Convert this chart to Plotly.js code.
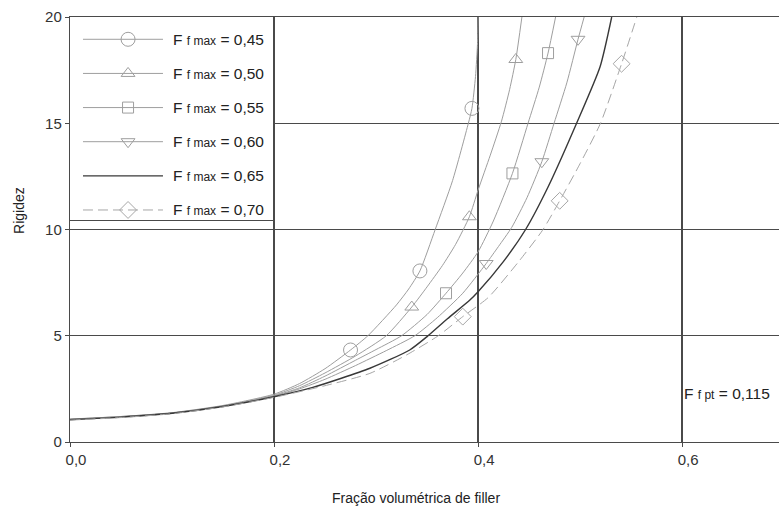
<!DOCTYPE html>
<html>
<head>
<meta charset="utf-8">
<script src="https://cdn.plot.ly/plotly-3.0.1.min.js"></script>
<style>
  html, body { margin: 0; padding: 0; background: #fff; }
  #chart { width: 779px; height: 508px; }
</style>
</head>
<body>
<div id="chart"></div>
<script>
// Rigidez vs. fração volumétrica de filler, para vários Ff max
const ffmaxLabels = ['0,45', '0,50', '0,55', '0,60', '0,65', '0,70'];

// curves
const x045 = [0, 0.05, 0.1, 0.15, 0.2, 0.225, 0.25, 0.275, 0.292, 0.32, 0.332, 0.343, 0.358, 0.375, 0.3905, 0.394, 0.3975, 0.3995, 0.4];
const y045 = [1.08, 1.2, 1.38, 1.72, 2.25, 2.75, 3.45, 4.33, 5.0, 6.45, 7.2, 8.05, 10.0, 12.3, 15.0, 15.7, 17.2, 18.8, 20];

const x050 = [0, 0.05, 0.1, 0.15, 0.2, 0.225, 0.25, 0.28, 0.31, 0.335, 0.35, 0.365, 0.378, 0.3915, 0.4, 0.412, 0.423, 0.431, 0.437, 0.443];
const y050 = [1.07, 1.2, 1.37, 1.7, 2.2, 2.65, 3.25, 4.05, 5.0, 6.35, 7.3, 8.3, 9.3, 10.6, 11.85, 13.5, 15.1, 16.6, 18.0, 20];

const x055 = [0, 0.05, 0.1, 0.15, 0.2, 0.225, 0.25, 0.28, 0.3, 0.325, 0.35, 0.3686, 0.385, 0.4, 0.415, 0.4337, 0.449, 0.46, 0.4686, 0.476];
const y055 = [1.07, 1.19, 1.36, 1.69, 2.17, 2.55, 3.1, 3.85, 4.35, 5.0, 6.0, 7.0, 7.95, 8.95, 10.4, 12.64, 15.0, 16.7, 18.3, 20];

const x060 = [0, 0.05, 0.1, 0.15, 0.2, 0.225, 0.25, 0.28, 0.31, 0.338, 0.36, 0.385, 0.408, 0.42, 0.433, 0.448, 0.4625, 0.4745, 0.487, 0.498, 0.504];
const y060 = [1.06, 1.18, 1.35, 1.68, 2.15, 2.5, 2.95, 3.6, 4.3, 5.0, 5.85, 7.0, 8.4, 9.2, 10.1, 11.5, 13.19, 15.0, 16.9, 18.95, 20];

const x065 = [0, 0.05, 0.1, 0.15, 0.2, 0.238, 0.294, 0.333, 0.35, 0.37, 0.392, 0.4, 0.425, 0.4466, 0.4686, 0.4966, 0.5196, 0.531];
const y065 = [1.05, 1.17, 1.35, 1.67, 2.13, 2.57, 3.47, 4.33, 4.96, 5.8, 6.68, 7.07, 8.5, 10.0, 12.0, 15.0, 17.66, 20];

const x070 = [0, 0.05, 0.1, 0.15, 0.2, 0.25, 0.294, 0.33, 0.361, 0.385, 0.41, 0.44, 0.4637, 0.48, 0.5, 0.52, 0.5407, 0.5556];
const y070 = [1.03, 1.15, 1.33, 1.65, 2.1, 2.65, 3.23, 4.1, 5.0, 5.9, 6.8, 8.5, 10.0, 11.35, 13.1, 15.0, 17.8, 20];

// marked points on each curve
const mx045 = [0.275, 0.343, 0.394];   const my045 = [4.33, 8.05, 15.7];
const mx050 = [0.335, 0.3915, 0.437];  const my050 = [6.35, 10.6, 18.0];
const mx055 = [0.3686, 0.4337, 0.4686]; const my055 = [7.0, 12.64, 18.3];
const mx060 = [0.408, 0.4625, 0.498];  const my060 = [8.4, 13.19, 18.95];
const mx070 = [0.385, 0.48, 0.5407];   const my070 = [5.9, 11.35, 17.8];

const xTicks = [0, 0.2, 0.4, 0.6];
const yTicks = [0, 5, 10, 15, 20];
const ffptLabel = '0,115';

// ---- styling ----
const FONT = 'Liberation Sans, Arial, sans-serif';
const LIGHT = '#9e9e9e';
const DARK = '#383838';
const GRID = '#4a4a4a';
const SUB = 'font-size:12px';

const series = [
  { x: x045, y: y045, mx: mx045, my: my045, symbol: 'circle-open',        size: 14, color: LIGHT, width: 1,   dash: 'solid' },
  { x: x050, y: y050, mx: mx050, my: my050, symbol: 'triangle-up-open',   size: 12, color: LIGHT, width: 1,   dash: 'solid' },
  { x: x055, y: y055, mx: mx055, my: my055, symbol: 'square-open',        size: 11, color: LIGHT, width: 1,   dash: 'solid' },
  { x: x060, y: y060, mx: mx060, my: my060, symbol: 'triangle-down-open', size: 12, color: LIGHT, width: 1,   dash: 'solid' },
  { x: x065, y: y065, mx: null,  my: null,  symbol: null,                 size: 0,  color: DARK,  width: 1.4, dash: 'solid' },
  { x: x070, y: y070, mx: mx070, my: my070, symbol: 'diamond-open',       size: 13, color: '#a6a6a6', width: 1, dash: '10px,5px' }
];

const traces = [];
series.forEach(s => {
  traces.push({
    type: 'scatter', mode: 'lines', x: s.x, y: s.y,
    line: { color: s.color, width: s.width, dash: s.dash, shape: 'spline', smoothing: 0.6 },
    hoverinfo: 'skip', showlegend: false
  });
  if (s.mx) {
    traces.push({
      type: 'scatter', mode: 'markers', x: s.mx, y: s.my,
      marker: { symbol: s.symbol, size: s.size, color: s.color, line: { color: s.color, width: 1 } },
      hoverinfo: 'skip', showlegend: false
    });
  }
});

// key box drawn as an inset subplot (x2/y2), one row per series
const keyLine = [0.064, 0.458];
const keyMark = 0.286;
const keyText = 0.5;
const annotations = [];
series.forEach((s, i) => {
  const row = 5 - i;
  traces.push({
    type: 'scatter', mode: 'lines', x: keyLine, y: [row, row], xaxis: 'x2', yaxis: 'y2',
    line: { color: s.color, width: s.width, dash: s.dash }, hoverinfo: 'skip', showlegend: false
  });
  if (s.symbol) {
    traces.push({
      type: 'scatter', mode: 'markers', x: [keyMark], y: [row], xaxis: 'x2', yaxis: 'y2',
      marker: { symbol: s.symbol, size: s.size, color: s.color, line: { color: s.color, width: 1 } },
      hoverinfo: 'skip', showlegend: false
    });
  }
  annotations.push({
    xref: 'x2', yref: 'y2', x: keyText, y: row, xanchor: 'left', yanchor: 'middle', showarrow: false,
    text: 'F <span style="' + SUB + '">f max</span> = ' + ffmaxLabels[i],
    font: { family: FONT, size: 15.5, color: '#222' }
  });
});

annotations.push({
  xref: 'x', yref: 'y', x: 0.6, y: 2.3, xanchor: 'left', yanchor: 'middle', xshift: 0, showarrow: false,
  text: 'F <span style="' + SUB + '">f pt</span> = ' + ffptLabel,
  font: { family: FONT, size: 15.5, color: '#222' }
});
annotations.push({
  xref: 'paper', yref: 'paper', x: 0.488, y: -0.131, xanchor: 'center', yanchor: 'middle', showarrow: false,
  text: 'Fração volumétrica de filler', font: { family: FONT, size: 14, color: '#222' }
});
annotations.push({
  xref: 'paper', yref: 'paper', x: -0.072, y: 0.546, xanchor: 'center', yanchor: 'middle', showarrow: false,
  textangle: -90, text: 'Rigidez', font: { family: FONT, size: 14, color: '#222' }
});

const axisCommon = {
  showgrid: true, gridcolor: GRID, gridwidth: 1.2,
  showline: true, linecolor: GRID, linewidth: 1.2,
  ticks: 'outside', ticklen: 4, tickcolor: GRID, tickwidth: 1,
  zeroline: false,
  tickfont: { family: FONT, size: 15, color: '#333' }
};

const layout = {
  width: 779, height: 508,
  margin: { l: 70, r: 0, t: 17, b: 66 },
  paper_bgcolor: '#fff', plot_bgcolor: '#fff',
  separators: ',.',
  showlegend: false,
  xaxis: Object.assign({}, axisCommon, {
    range: [0, 0.695], tickvals: xTicks, tickformat: '.1f', mirror: true, ticklabelshift: 6
  }),
  yaxis: Object.assign({}, axisCommon, {
    range: [0, 20], tickvals: yTicks, tickformat: 'd'
  }),
  xaxis2: {
    domain: [0, 0.2863], anchor: 'y2', range: [0, 1],
    showgrid: false, zeroline: false, showticklabels: false, ticks: '',
    showline: true, mirror: true, linecolor: GRID, linewidth: 1
  },
  yaxis2: {
    domain: [0.5224, 1], anchor: 'x2', range: [-0.293, 5.653],
    showgrid: false, zeroline: false, showticklabels: false, ticks: '',
    showline: true, mirror: true, linecolor: GRID, linewidth: 1
  },
  annotations: annotations
};

Plotly.newPlot('chart', traces, layout, { staticPlot: true, displayModeBar: false });
</script>
</body>
</html>
